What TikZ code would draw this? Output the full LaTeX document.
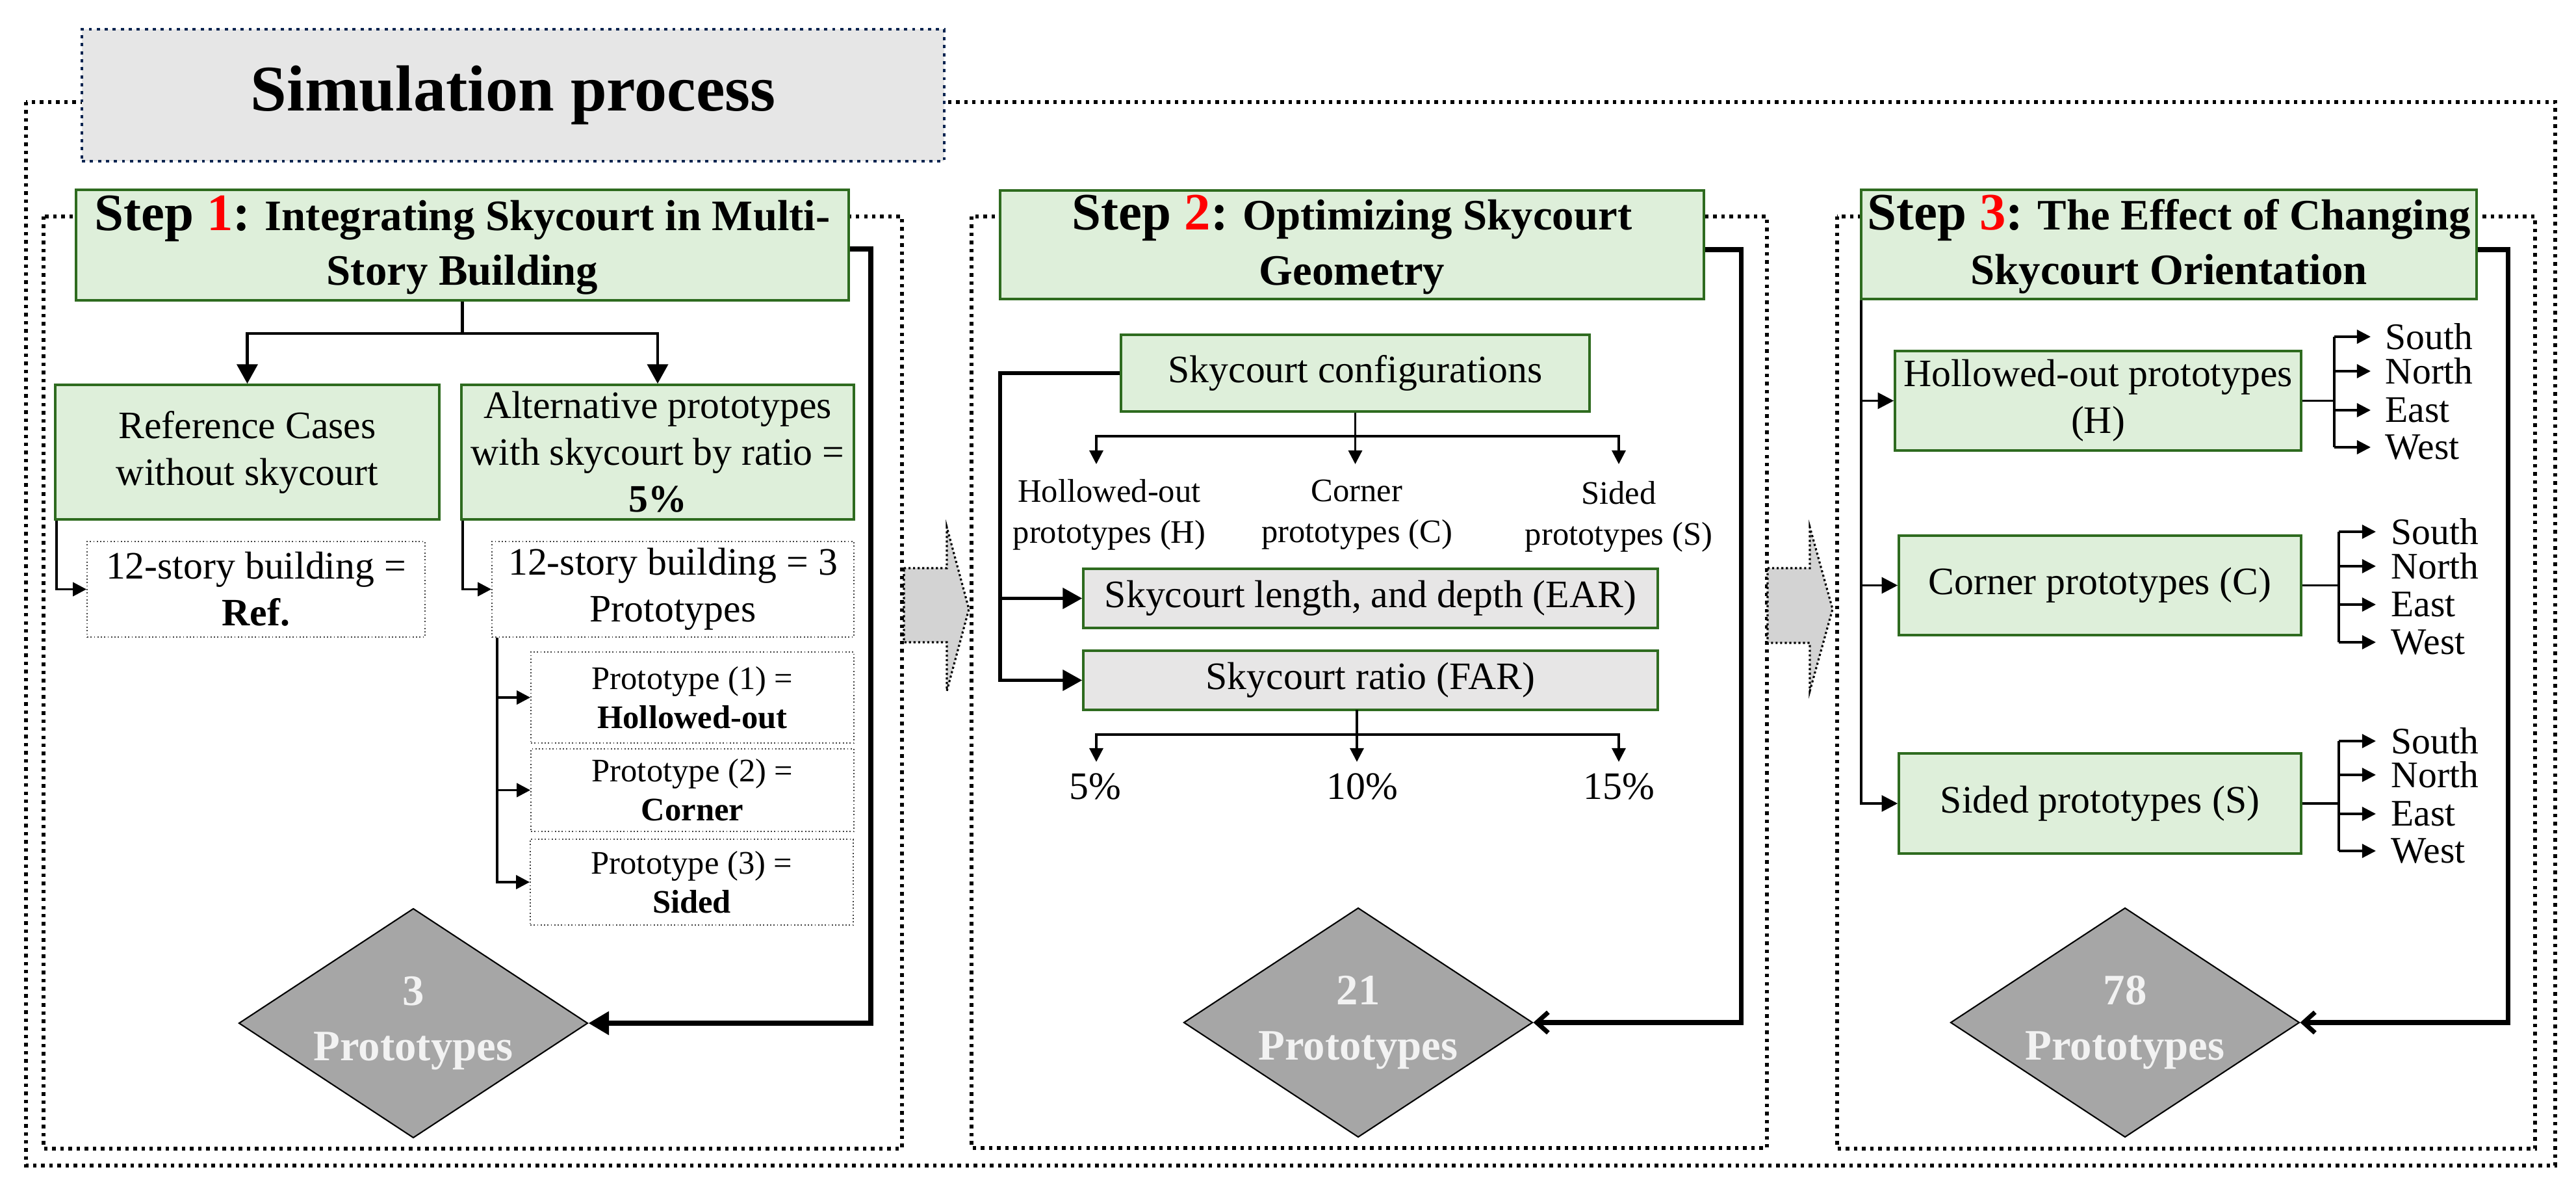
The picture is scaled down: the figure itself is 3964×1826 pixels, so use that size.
\documentclass[tikz,border=0pt]{standalone}
\usepackage{fontspec}
\setmainfont{Liberation Serif}
\usetikzlibrary{arrows.meta,shapes.geometric}
\newcommand{\fsz}[2]{\fontsize{#1}{#2}\selectfont}
\definecolor{hdrfill}{HTML}{DEEFDA}
\definecolor{hdrdraw}{HTML}{2E6B1F}
\definecolor{ttlfill}{HTML}{E6E6E6}
\definecolor{ttldraw}{HTML}{0A2450}
\definecolor{grayfill}{HTML}{E7E6E6}
\definecolor{dmfill}{HTML}{A6A6A6}
\definecolor{dmtext}{HTML}{F2F2F2}
\definecolor{arrfill}{HTML}{D3D3D3}
\tikzset{
  tipL/.tip={Triangle[length=8.5pt,width=9pt]},
  tipM/.tip={Triangle[length=7pt,width=7pt]},
  tipS/.tip={Triangle[length=6pt,width=6pt]},
  tipR/.tip={Triangle[length=9pt,width=10pt]},
  barb/.tip={Straight Barb[length=5pt,width=9pt,line width=2pt]},
}
\begin{document}
\begin{tikzpicture}[x=0.1mm,y=-0.1mm,line join=miter,
  stepframe/.style={line width=1.55pt, dash pattern=on 1.55pt off 2pt},
  ttl/.style={draw=ttldraw, fill=ttlfill, line width=1.4pt, dash pattern=on 1.4pt off 2.1pt, inner sep=0, minimum width=132.7mm, minimum height=20.3mm, font=\bfseries\fsz{28.5}{32}},
  hdr/.style={draw=hdrdraw, fill=hdrfill, line width=1pt, inner sep=0, align=center, font=\bfseries\fsz{19}{24}},
  gbox/.style={draw=hdrdraw, fill=hdrfill, line width=1pt, inner sep=0, align=center, font=\fsz{17}{20.5}},
  graybox/.style={gbox, fill=grayfill},
  subbox/.style={draw=black!75, fill=white, line width=0.5pt, densely dotted, inner sep=0, align=center, font=\fsz{17}{20.5}},
  pbox/.style={subbox, font=\fsz{14.4}{17}},
  dia/.style={diamond, draw=black, fill=dmfill, line width=0.6pt, inner sep=0, minimum width=53.7mm, minimum height=35.3mm, aspect=1.52, align=center, text=dmtext, font=\bfseries\fsz{19}{24}},
  lbl/.style={inner sep=0, align=center, font=\fsz{14.4}{18}},
  pct/.style={inner sep=0, font=\fsz{17}{20}},
  dir/.style={inner sep=0, anchor=west, font=\fsz{16.4}{18}},
  bigarrow/.style={fill=arrfill, draw=black, line width=0.9pt, dash pattern=on 0.9pt off 1.1pt},
  ret/.style={line width=2pt},
  cA/.style={line width=1.4pt},
  cB/.style={line width=1.1pt},
  cC/.style={line width=0.9pt},
  cD/.style={line width=1.5pt},
]
\useasboundingbox (0,0) rectangle (3964,1826);
\fill[white] (0,0) rectangle (3964,1826);

% frames
\draw[stepframe] (40,157) rectangle (3932,1793);
\draw[stepframe] (67,333) rectangle (1388,1767);
\draw[stepframe] (1495,333) rectangle (2719,1766);
\draw[stepframe] (2827,333) rectangle (3901,1767);

% big arrows
\draw[bigarrow] (1391,874) -- (1457,874) -- (1457,811) -- (1491,937) -- (1457,1063) -- (1457,988) -- (1391,988) -- cycle;
\draw[bigarrow] (2720,874) -- (2785,874) -- (2785,811) -- (2820,937) -- (2785,1063) -- (2785,989) -- (2720,989) -- cycle;

% title
\node[ttl] (ttl) at (789.5,146.5) {Simulation process};

% ---------------- Step 1
\node[hdr, minimum width=118.9mm, minimum height=17mm] (H1) at (711.5,377) {{\fsz{23}{24}Step \textcolor{red}{1}:} Integrating Skycourt in Multi-\\Story Building};
\node[gbox, minimum width=59.1mm, minimum height=20.7mm] (Ref) at (380.5,695.5) {Reference Cases\\without skycourt};
\node[gbox, minimum width=60.4mm, minimum height=20.7mm] (Alt) at (1012,695.5) {Alternative prototypes\\with skycourt by ratio =\\\textbf{5\%}};
\node[subbox, minimum width=52mm, minimum height=14.7mm] (RefSub) at (394,906.5) {12-story building =\\\textbf{Ref.}};
\node[subbox, minimum width=55.7mm, minimum height=14.7mm] (AltSub) at (1035.5,906.5) {12-story building = 3\\Prototypes};
\node[pbox, minimum width=49.7mm, minimum height=14mm] (P1) at (1065.5,1073) {Prototype (1) =\\\textbf{Hollowed-out}};
\node[pbox, minimum width=49.7mm, minimum height=12.7mm] (P2) at (1065.5,1215.5) {Prototype (2) =\\\textbf{Corner}};
\node[pbox, minimum width=49.7mm, minimum height=13.2mm] (P3) at (1064.5,1357) {Prototype (3) =\\\textbf{Sided}};
\node[dia] (D1) at (636,1574) {3\\Prototypes};

\coordinate (b1) at (711.5,513);
\draw[cA] (H1.south) -- (b1);
\draw[cA,-{tipL}] (b1) -| (Ref.north);
\draw[cA,-{tipL}] (b1) -| (Alt.north);
\draw[cB,-{tipS}] ([xshift=0.4mm]Ref.south west) |- (RefSub.west);
\draw[cB,-{tipS}] ([xshift=0.4mm]Alt.south west) |- (AltSub.west);
\coordinate (v1) at ([xshift=0.9mm]AltSub.south west);
\draw[cB,-{tipS}] (v1) |- (P3.west);
\draw[cB,-{tipS}] (v1 |- P1.west) -- (P1.west);
\draw[cB,-{tipS}] (v1 |- P2.west) -- (P2.west);
\coordinate (r1) at (1340,1574);
\draw[ret,-{tipR}] ([yshift=-0.6mm]H1.east) -| (r1) -- (D1.east);

% ---------------- Step 2
\node[hdr, minimum width=108.3mm, minimum height=16.7mm] (H2) at (2080.5,376.5) {{\fsz{23}{24}Step \textcolor{red}{2}:} Optimizing Skycourt\\Geometry};
\node[gbox, minimum width=72.1mm, minimum height=11.8mm] (Cfg) at (2085.5,574) {Skycourt configurations};
\node[graybox, minimum width=88.4mm, minimum height=9.1mm] (EAR) at (2109,920.5) {Skycourt length, and depth (EAR)};
\node[graybox, minimum width=88.4mm, minimum height=9.1mm] (FAR) at (2109,1046.5) {Skycourt ratio (FAR)};
\node[lbl] (LH) at (1707,792) {Hollowed-out\\prototypes (H)};
\node[lbl] (LC) at (2088,792) {Corner\\prototypes (C)};
\node[lbl] (LS) at (2491,795) {Sided\\prototypes (S)};
\node[pct] (p5) at (1685,1210) {5\%};
\node[pct] (p10) at (2096,1210) {10\%};
\node[pct] (p15) at (2491,1210) {15\%};
\node[dia] (D2) at (2090,1573) {21\\Prototypes};

\coordinate (b2) at (2085.5,671);
\coordinate (t2a) at (1687,714);
\coordinate (t2b) at (2085.5,714);
\coordinate (t2c) at (2491,714);
\draw[cC] (Cfg.south) -- (b2);
\draw[cC,-{tipS}] (b2) -| (t2a);
\draw[cC,-{tipS}] (b2) -- (t2b);
\draw[cC,-{tipS}] (b2) -| (t2c);

\coordinate (f0) at (2088,1092);
\coordinate (b3) at (2088,1130);
\coordinate (t3a) at (1687,1172);
\coordinate (t3b) at (2088,1172);
\coordinate (t3c) at (2491,1172);
\draw[cC] (f0) -- (b3);
\draw[cC,-{tipS}] (b3) -| (t3a);
\draw[cC,-{tipS}] (b3) -- (t3b);
\draw[cC,-{tipS}] (b3) -| (t3c);

\coordinate (l2) at (1539,574);
\draw[cD,-{tipL}] (Cfg.west) -- (l2) |- (FAR.west);
\draw[cD,-{tipL}] (l2 |- EAR.west) -- (EAR.west);
\coordinate (r2) at (2679,1573);
\draw[ret,-{barb}] ([yshift=-0.75mm]H2.east) -| (r2) -- (D2.east);

% ---------------- Step 3
\node[hdr, minimum width=94.7mm, minimum height=16.8mm] (H3) at (3337.5,376) {{\fsz{23}{24}Step \textcolor{red}{3}:} The Effect of Changing\\Skycourt Orientation};
\node[gbox, minimum width=62.5mm, minimum height=15.3mm] (Hb) at (3228.5,616.5) {Hollowed-out prototypes\\(H)};
\node[gbox, minimum width=61.9mm, minimum height=15.3mm] (Cb) at (3231.5,900.5) {Corner prototypes (C)};
\node[gbox, minimum width=61.9mm, minimum height=15.4mm] (Sb) at (3231.5,1236) {Sided prototypes (S)};
\node[dia] (D3) at (3270,1573) {78\\Prototypes};

\coordinate (v3) at ([xshift=0.2mm]H3.south west);
\draw[cB,-{tipM}] (v3) |- (Sb.west);
\draw[cB,-{tipM}] (v3 |- Hb.west) -- (Hb.west);
\draw[cB,-{tipM}] (v3 |- Cb.west) -- (Cb.west);

\node[dir] (hS) at (3670,518) {South};
\node[dir] (hN) at (3670,571) {North};
\node[dir] (hE) at (3670,631) {East};
\node[dir] (hW) at (3670,688) {West};
\node[dir] (cS) at (3679,818) {South};
\node[dir] (cN) at (3679,871) {North};
\node[dir] (cE) at (3679,930) {East};
\node[dir] (cW) at (3679,988) {West};
\node[dir] (sS) at (3679,1140) {South};
\node[dir] (sN) at (3679,1192) {North};
\node[dir] (sE) at (3679,1252) {East};
\node[dir] (sW) at (3679,1309) {West};

\coordinate (hx) at (3592,0);
\coordinate (cx) at (3599,0);
\coordinate (sx) at (3599,0);
\draw[cC] (Hb.east) -- (Hb.east -| hx);
\draw[cC] (hS.west -| hx) -- (hW.west -| hx);
\foreach \n in {hS,hN,hE,hW} \draw[cC,-{tipS}] (\n.west -| hx) -- ([xshift=-2.2mm]\n.west);
\draw[cC] (Cb.east) -- (Cb.east -| cx);
\draw[cC] (cS.west -| cx) -- (cW.west -| cx);
\foreach \n in {cS,cN,cE,cW} \draw[cC,-{tipS}] (\n.west -| cx) -- ([xshift=-2.3mm]\n.west);
\draw[cC] (Sb.east) -- (Sb.east -| sx);
\draw[cC] (sS.west -| sx) -- (sW.west -| sx);
\foreach \n in {sS,sN,sE,sW} \draw[cC,-{tipS}] (\n.west -| sx) -- ([xshift=-2.3mm]\n.west);

\coordinate (r3) at (3859,1573);
\draw[ret,-{barb}] ([yshift=-0.8mm]H3.east) -| (r3) -- (D3.east);
\end{tikzpicture}
\end{document}
